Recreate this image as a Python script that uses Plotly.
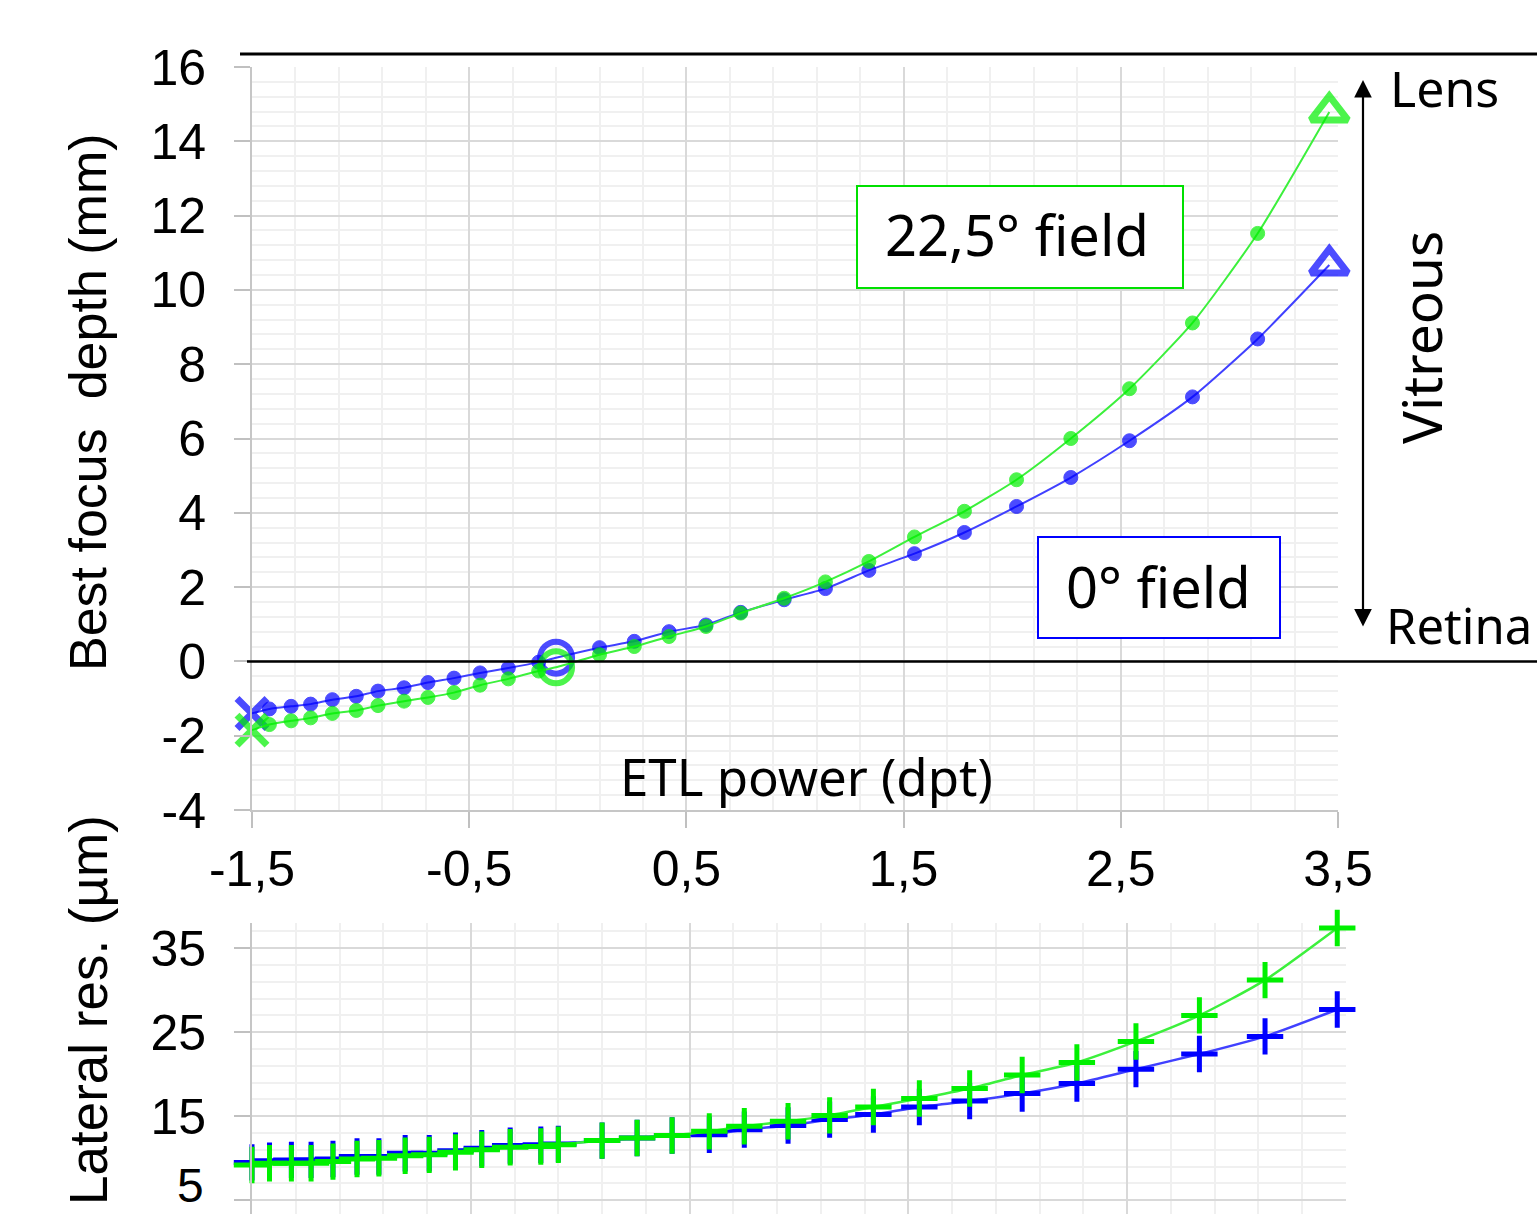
import plotly.graph_objects as go

# ---------------- data ----------------
etl_power = [-1.5, -1.42, -1.32, -1.23, -1.13, -1.02, -0.92, -0.80, -0.69, -0.57,
             -0.45, -0.32, -0.18, -0.10, 0.10, 0.26, 0.42, 0.59, 0.75, 0.95,
             1.14, 1.34, 1.55, 1.78, 2.02, 2.27, 2.54, 2.83, 3.13, 3.46]

depth_0deg = [-1.40, -1.28, -1.21, -1.15, -1.03, -0.94, -0.80, -0.71, -0.57, -0.45,
              -0.31, -0.18, -0.02, 0.10, 0.37, 0.54, 0.80, 0.98, 1.32, 1.66,
              1.96, 2.45, 2.90, 3.47, 4.17, 4.95, 5.94, 7.12, 8.68, 10.67]

depth_22deg = [-1.85, -1.70, -1.60, -1.52, -1.40, -1.32, -1.19, -1.07, -0.97, -0.84,
               -0.64, -0.47, -0.26, -0.16, 0.18, 0.40, 0.67, 0.94, 1.30, 1.70,
               2.14, 2.69, 3.35, 4.04, 4.89, 6.00, 7.34, 9.11, 11.52, 14.79]

latres_0deg = [9.5, 9.7, 9.8, 9.8, 9.9, 10.2, 10.2, 10.6, 10.6, 10.9,
               11.2, 11.5, 11.6, 11.7, 12.1, 12.4, 12.7, 12.8, 13.4, 13.9,
               14.6, 15.2, 16.1, 16.8, 17.7, 18.9, 20.6, 22.4, 24.5, 27.7]

latres_22deg = [9.2, 9.4, 9.4, 9.4, 9.6, 9.9, 10.0, 10.3, 10.4, 10.7,
                11.0, 11.3, 11.4, 11.6, 12.1, 12.4, 12.7, 13.2, 13.8, 14.4,
                15.1, 16.1, 17.1, 18.3, 19.9, 21.4, 23.9, 27.0, 31.2, 37.4]

x_tickvals = [-1.5, -0.5, 0.5, 1.5, 2.5, 3.5]
x_ticktext = ["-1,5", "-0,5", "0,5", "1,5", "2,5", "3,5"]
y1_tickvals = [-4, -2, 0, 2, 4, 6, 8, 10, 12, 14, 16]
y1_ticktext = ["-4", "-2", "0", "2", "4", "6", "8", "10", "12", "14", "16"]
y2_tickvals = [5, 15, 25, 35]
y2_ticktext = ["5", "15", "25", "35"]

emmetropic_power = -0.10

# ---------------- styling helpers ----------------
W, H = 1537, 1214
def px(x):
    return x / W
def py(y):
    return 1 - y / H

BLUE = "#0000ff"
BLUE_LINE = "#4040ff"
GREEN = "#00f000"
GREEN_LINE = "#3cf03c"
GRID = "#d9d9d9"
MINOR = "#f0f0f0"
TICKFONT = dict(family="Liberation Sans, Arial", size=50, color="black")
TEXTFONT = "Noto Sans, Open Sans, sans-serif"

n = len(etl_power)
special = {0: ("x-thin", 30, 7), etl_power.index(emmetropic_power): ("circle-open", 32, 6),
           n - 1: ("triangle-up-open", 32, 7)}
symbols = [special[i][0] if i in special else "circle" for i in range(n)]
sizes = [special[i][1] if i in special else 14 for i in range(n)]
lwidths = [special[i][2] if i in special else 1 for i in range(n)]

fig = go.Figure()

for yvals, mc, lc in [(depth_0deg, BLUE, BLUE_LINE), (depth_22deg, GREEN, GREEN_LINE)]:
    fig.add_trace(go.Scatter(
        x=etl_power, y=yvals, mode="lines+markers", xaxis="x", yaxis="y", cliponaxis=False,
        line=dict(color=lc, width=2, shape="spline", smoothing=0.6),
        marker=dict(symbol=symbols, size=sizes, color=mc,
                    line=dict(color=mc, width=lwidths)),
        hoverinfo="skip"))

for yvals, mc, lc in [(latres_0deg, BLUE, BLUE_LINE), (latres_22deg, GREEN, GREEN_LINE)]:
    fig.add_trace(go.Scatter(
        x=etl_power, y=yvals, mode="lines+markers", xaxis="x2", yaxis="y2", cliponaxis=False,
        line=dict(color=lc, width=2.5, shape="spline", smoothing=0.6),
        marker=dict(symbol="cross-thin", size=26, color=mc, line=dict(color=mc, width=5)),
        hoverinfo="skip"))

axis_common = dict(showgrid=True, gridcolor=GRID, gridwidth=2, zeroline=False, automargin=False,
                   showline=True, linecolor="#c6c6c6", linewidth=2,
                   tickcolor="#c0c0c0", tickwidth=2, tickfont=TICKFONT)

fig.update_layout(
    template="none",
    width=W, height=H, autosize=False,
    margin=dict(l=0, r=0, t=0, b=0, pad=0),
    paper_bgcolor="white", plot_bgcolor="white", showlegend=False,
    xaxis=dict(domain=[px(252), px(1338)], range=[-1.5, 3.5], anchor="y",
               tickvals=x_tickvals, ticktext=x_ticktext, ticks="outside", ticklen=16,
               ticklabelstandoff=-2,
               minor=dict(dtick=0.2, tick0=-1.5, showgrid=True, gridcolor=MINOR, gridwidth=2),
               **axis_common),
    yaxis=dict(domain=[py(810), py(67)], range=[-4, 16], anchor="x",
               tickvals=y1_tickvals, ticktext=y1_ticktext, ticks="outside", ticklen=16,
               ticklabelstandoff=18,
               minor=dict(dtick=0.4, tick0=0, showgrid=True, gridcolor=MINOR, gridwidth=2),
               **axis_common),
    xaxis2=dict(domain=[px(252), px(1346)], range=[-1.5, 3.5], anchor="y2",
                tickvals=x_tickvals, showticklabels=False, ticks="",
                minor=dict(dtick=0.2, tick0=-1.5, showgrid=True, gridcolor=MINOR, gridwidth=2),
                **axis_common),
    yaxis2=dict(domain=[0, py(923)], range=[3.36, 38], anchor="x2",
                tickvals=y2_tickvals, ticktext=y2_ticktext, ticks="outside", ticklen=16,
                ticklabelstandoff=18,
                minor=dict(dtick=2, tick0=5, showgrid=True, gridcolor=MINOR, gridwidth=2),
                **axis_common),
)

# black reference lines
fig.add_shape(type="line", xref="paper", yref="paper", x0=px(240), x1=1, y0=py(54), y1=py(54),
              line=dict(color="black", width=3))
fig.add_shape(type="line", xref="paper", yref="y", x0=px(247), x1=1, y0=0, y1=0,
              line=dict(color="black", width=2.5))

# label boxes
fig.add_shape(type="rect", xref="paper", yref="paper", x0=px(857), x1=px(1183), y0=py(288), y1=py(186),
              line=dict(color="#00e000", width=2), fillcolor="white", layer="above")
fig.add_shape(type="rect", xref="paper", yref="paper", x0=px(1038), x1=px(1280), y0=py(638), y1=py(537),
              line=dict(color="#0000ff", width=2), fillcolor="white", layer="above")

def text(x, y, s, size, family=TEXTFONT, angle=0, xanchor="center", yanchor="middle"):
    fig.add_annotation(xref="paper", yref="paper", x=px(x), y=py(y),
                       text=s, showarrow=False,
                       textangle=angle, xanchor=xanchor, yanchor=yanchor,
                       font=dict(family=family, size=size, color="black"))

text(1017, 234, "22,5° field", 56)
text(1158, 586, "0° field", 56)
text(807, 776, "ETL power (dpt)", 51)
text(1388, 88, "Lens", 50, xanchor="left")
text(1384, 625, "Retina", 49, xanchor="left")
text(1420, 338, "Vitreous", 55, angle=-90)
text(88, 402, "Best focus\u00a0 depth (mm)", 52, family="Liberation Sans, Arial", angle=-90)
text(88, 813, "Lateral res. (µm)", 53, family="Liberation Sans, Arial", angle=-90, yanchor="top")

# lowest tick label of the lower panel (plotly drops it because it touches the page edge)
text(206, H, y2_ticktext[0], 48, family="Liberation Sans, Arial", xanchor="right", yanchor="bottom")

# double arrow Lens <-> Retina
fig.add_annotation(xref="paper", yref="paper", x=px(1363), y=py(80), ax=0, ay=548,
                   text="", showarrow=True, arrowside="end+start",
                   arrowhead=2, startarrowhead=2, arrowsize=1.6, startarrowsize=1.6,
                   arrowwidth=2.2, arrowcolor="black")

fig.write_html("out.html", post_script="document.body.style.margin='0';",
               config={"displayModeBar": False})
